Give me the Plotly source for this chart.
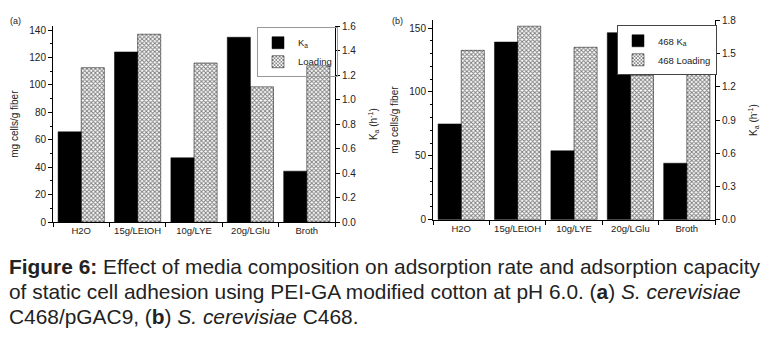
import plotly.graph_objects as go

W, H = 773, 338
categories = ["H2O", "15g/LEtOH", "10g/LYE", "20g/LGlu", "Broth"]

# panel (a) S. cerevisiae C468/pGAC9
ka_a = [0.737, 1.39, 0.525, 1.51, 0.416]          # h^-1 (right axis)
loading_a = [112.6, 137.0, 116.0, 98.6, 114.0]     # mg cells/g fiber (left axis)
# panel (b) S. cerevisiae C468
ka_b = [0.865, 1.605, 0.622, 1.69, 0.51]
loading_b = [132.6, 151.5, 135.0, 113.0, 136.0]

left_ticks_a = [0, 20, 40, 60, 80, 100, 120, 140]
right_ticks_a = [0.0, 0.2, 0.4, 0.6, 0.8, 1.0, 1.2, 1.4, 1.6]
left_ticks_b = [0, 50, 100, 150]
right_ticks_b = [0.0, 0.3, 0.6, 0.9, 1.2, 1.5, 1.8]

FONT = "Liberation Sans, Arial, sans-serif"
pat = dict(shape="x", size=3, solidity=0.55, fgcolor="black", bgcolor="white")

def px(x):
    return x / W

def py(y):
    return 1 - y / H

fig = go.Figure()
fig.add_trace(go.Bar(x=categories, y=ka_a, name="K<sub>a</sub>", xaxis="x", yaxis="y2",
                     offsetgroup="1", marker=dict(color="black", line=dict(color="black", width=0.5)),
                     legend="legend"))
fig.add_trace(go.Bar(x=categories, y=loading_a, name="Loading", xaxis="x", yaxis="y",
                     offsetgroup="2", marker=dict(color="white", pattern=pat, line=dict(color="black", width=0.5)),
                     legend="legend"))
fig.add_trace(go.Bar(x=categories, y=ka_b, name="468 K<sub>a</sub>", xaxis="x2", yaxis="y4",
                     offsetgroup="1", marker=dict(color="black", line=dict(color="black", width=0.5)),
                     legend="legend2"))
fig.add_trace(go.Bar(x=categories, y=loading_b, name="468 Loading", xaxis="x2", yaxis="y3",
                     offsetgroup="2", marker=dict(color="white", pattern=pat, line=dict(color="black", width=0.5)),
                     legend="legend2"))

tickfont = dict(family=FONT, size=10, color="#222")
xtickfont = dict(family=FONT, size=9.5, color="#222")
titlefont = dict(family=FONT, size=10, color="#222")
common_x = dict(type="category", showline=True, linecolor="black", linewidth=1, ticks="outside",
                ticklen=4, tickson="boundaries", tickcolor="black", tickfont=xtickfont, tickangle=0,
                showgrid=False, zeroline=False, fixedrange=True)
common_y = dict(showline=True, linecolor="black", linewidth=1, ticks="outside", ticklen=4,
                tickcolor="black", tickfont=tickfont, showgrid=False, zeroline=False)

ya_bot, ya_top = py(224), py(21)
yb_bot, yb_top = py(221.5), py(15)

legfont = dict(family=FONT, size=9.5, color="#222")

fig.update_layout(
    width=W, height=H, margin=dict(l=0, r=0, t=0, b=0),
    paper_bgcolor="white", plot_bgcolor="white",
    barmode="group", bargap=0.18, bargroupgap=0,
    font=dict(family=FONT, color="#222"),
    xaxis=dict(domain=[px(53), px(335)], anchor="y", **common_x),
    xaxis2=dict(domain=[px(433), px(715)], anchor="y3", **common_x),
    yaxis=dict(domain=[ya_bot, ya_top], anchor="x", range=[0, 142.8], tickvals=left_ticks_a,
               minor=dict(ticks="outside", ticklen=2, dtick=10, tickcolor="black"),
               title=dict(text="mg cells/g fiber", font=titlefont, standoff=8), **common_y),
    yaxis2=dict(domain=[ya_bot, ya_top], anchor="x", overlaying="y", side="right", range=[0, 1.6],
                tickvals=right_ticks_a, tickformat=".1f",
                title=dict(text="K<sub>a</sub> (h<sup>-1</sup>)", font=titlefont, standoff=14), **common_y),
    yaxis3=dict(domain=[yb_bot, yb_top], anchor="x2", range=[0, 156], tickvals=left_ticks_b,
                minor=dict(ticks="outside", ticklen=2, dtick=10, tickcolor="black"),
                title=dict(text="mg cells/g fiber", font=titlefont, standoff=8), **common_y),
    yaxis4=dict(domain=[yb_bot, yb_top], anchor="x2", overlaying="y3", side="right", range=[0, 1.8],
                tickvals=right_ticks_b, tickformat=".1f",
                title=dict(text="K<sub>a</sub> (h<sup>-1</sup>)", font=titlefont, standoff=14), **common_y),
    legend=dict(x=px(257), y=py(22), xanchor="left", yanchor="top", bgcolor="rgba(255,255,255,0)",
                bordercolor="#999", borderwidth=1, font=legfont,
                tracegroupgap=0, itemwidth=30),
    legend2=dict(x=px(617), y=py(20), xanchor="left", yanchor="top", bgcolor="white",
                 bordercolor="#444", borderwidth=1, font=legfont,
                 tracegroupgap=0, itemwidth=30),
)

fig.add_annotation(text="(a)", x=px(8), y=py(16), xref="paper", yref="paper", xanchor="left",
                   yanchor="middle", showarrow=False, font=dict(family=FONT, size=9, color="#222"))
fig.add_annotation(text="(b)", x=px(390), y=py(16), xref="paper", yref="paper", xanchor="left",
                   yanchor="middle", showarrow=False, font=dict(family=FONT, size=9, color="#222"))

cap_lines = [
    "<b>Figure 6:</b> Effect of media composition on adsorption rate and adsorption capacity",
    "of static cell adhesion using PEI-GA modified cotton at pH 6.0. (<b>a</b>) <i>S. cerevisiae</i>",
    "C468/pGAC9, (<b>b</b>) <i>S. cerevisiae</i> C468.",
]
for i, line in enumerate(cap_lines):
    fig.add_annotation(text=line, x=px(7), y=py(270 + 26 * i), xref="paper", yref="paper",
                       xanchor="left", yanchor="middle", showarrow=False,
                       font=dict(family=FONT, size=20.9, color="#222"))

fig.write_html("out.html")
